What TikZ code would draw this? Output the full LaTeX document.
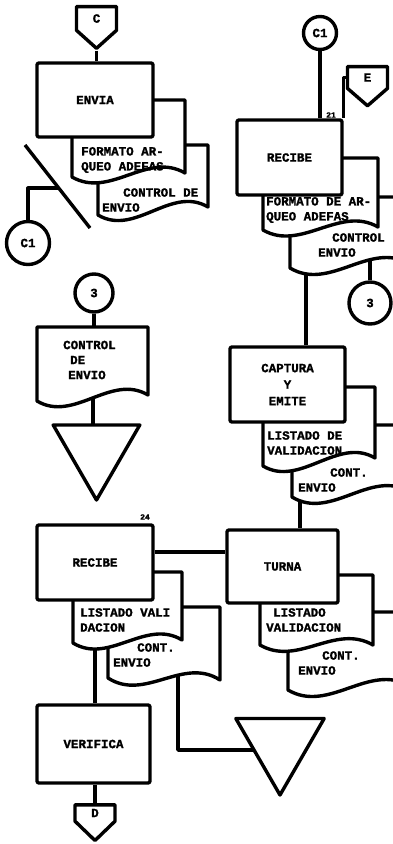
\documentclass[tikz,border=0pt]{standalone}
\usepackage{fontspec}
\setmonofont{Liberation Mono}[BoldFeatures={FakeBold=1.5}]
\usetikzlibrary{calc,backgrounds,shapes.geometric,shapes.symbols}

\begin{document}
\begin{tikzpicture}[x=1pt,y=-1pt,
  every node/.style={font=\ttfamily\bfseries\fontsize{12.5}{15}\selectfont, inner sep=0pt},
  flow/.style={line width=3.4pt, line join=round},
  proc/.style={draw, flow, fill=white, rounded corners=2pt},
  docshape/.style={draw, flow, fill=white},
  conn/.style={draw, flow, circle, fill=white},
  offpage/.style={draw, flow, fill=white, signal, signal to=south, minimum width=40pt},
  merge/.style={draw, flow, fill=white, regular polygon, regular polygon sides=3, shape border rotate=180}]
\useasboundingbox (0,0) rectangle (393,844);
\clip (0,0) rectangle (393,844);

% columna izquierda, arriba
\draw[docshape] (98,145) -- (208,145) -- (208,207) .. controls (171,185) and (135,237) .. (98,215) -- cycle;
\draw[docshape] (72,100) -- (185,100) -- (185,173) .. controls (147,151) and (110,199) .. (72,177) -- cycle;
\node[proc, minimum width=116pt, minimum height=74pt] (envia) at (95,100) {ENVIA};
\node[offpage, minimum height=27pt, signal pointer angle=96] (offC) at (96.5,18.5) {C};
\node[anchor=west, align=left] (fmtA) at (81,160) {FORMATO AR-\\QUEO ADEFAS};
\node[anchor=west, align=left] (ctlA) at (102,200) {\hspace*{21pt}CONTROL DE\\ENVIO};
\coordinate (slashA) at (25,145);
\coordinate (slashB) at (90,228);
\draw[flow] (slashA) -- (slashB);
\coordinate (slashhit) at ($(slashA)!0.52!(slashB)$);
\node[conn, minimum size=43pt] (c1A) at (28,243) {C1};

% columna derecha, arriba
\node[conn, minimum size=33pt] (c1B) at (320,33) {C1};
\node[offpage, minimum height=25pt, signal pointer angle=98] (offE) at (367.5,77.5) {E};
\node[font=\ttfamily\bfseries\footnotesize] (num21) at (331,115) {21};
\draw[docshape] (290,197) -- (410,197) -- (410,264) .. controls (370,240) and (330,292) .. (290,268) -- cycle;
\draw[docshape] (263,158) -- (378,158) -- (378,227) .. controls (340,205) and (301,252) .. (263,230) -- cycle;
\node[proc, minimum width=105pt, minimum height=75pt] (recibeB) at (289.5,157.5) {RECIBE};
\node[anchor=west, align=left] (fmtB) at (266,210) {FORMATO DE AR-\\QUEO ADEFAS};
\node[anchor=west, align=left] (ctlB) at (318,245) {\hspace*{14pt}CONTROL\\ENVIO};
\node[conn, minimum size=42pt] (c3B) at (370,303) {3};
\coordinate (ctlBout) at (306,250);
\coordinate (ctlBout2) at (370,250);

% captura y emite
\draw[docshape] (292,425) -- (410,425) -- (410,492) .. controls (371,468) and (331,521) .. (292,497) -- cycle;
\draw[docshape] (263,387) -- (375,387) -- (375,458) .. controls (338,436) and (300,488) .. (263,466) -- cycle;
\node[proc, minimum width=115pt, minimum height=75pt, align=center, font=\ttfamily\bfseries\fontsize{12.5}{16.5}\selectfont] (captura) at (287.5,384.5) {CAPTURA\\Y\\EMITE};
\node[anchor=west, align=left] (lstB) at (267,443) {LISTADO DE\\VALIDACION};
\node[anchor=west, align=left] (contB) at (298,480) {\hspace*{32pt}CONT.\\ENVIO};
\coordinate (contBout) at (300,480);

% turna
\draw[docshape] (288,612) -- (410,612) -- (410,686) .. controls (369,662) and (329,714) .. (288,690) -- cycle;
\draw[docshape] (260,575) -- (373,575) -- (373,645) .. controls (335,623) and (298,667) .. (260,645) -- cycle;
\node[proc, minimum width=111pt, minimum height=73pt] (turna) at (282.5,566.5) {TURNA};
\node[anchor=west, align=left] (lstC) at (266,620) {\hspace*{7pt}LISTADO\\VALIDACION};
\node[anchor=west, align=left] (contC) at (298,663) {\hspace*{24pt}CONT.\\ENVIO};
\node[merge, minimum size=102pt] (mergeB) at (280,744) {};

% columna izquierda, medio
\node[conn, minimum size=38pt] (c3A) at (94,293) {3};
\draw[docshape] (37,327) -- (148,327) -- (148,395) .. controls (111,373) and (74,423) .. (37,401) -- cycle;
\node[anchor=west, align=left] (ctlC) at (63,360) {CONTROL\\\hspace*{7pt}DE\\\hspace*{5pt}ENVIO};
\coordinate (ctlCin) at (94,340);
\coordinate (ctlCout) at (93,390);
\node[merge, minimum size=100pt] (mergeA) at (96.5,450) {};

% columna izquierda, abajo
\draw[docshape] (108,607) -- (220,607) -- (220,680) .. controls (183,656) and (145,702) .. (108,678) -- cycle;
\draw[docshape] (73,572) -- (182,572) -- (182,640) .. controls (146,618) and (109,665) .. (73,643) -- cycle;
\node[font=\ttfamily\bfseries\footnotesize] (num24) at (145,517) {24};
\node[proc, minimum width=116pt, minimum height=75pt] (recibeA) at (95,562.5) {RECIBE};
\node[anchor=west, align=left] (lstA) at (80,620) {LISTADO VALI\\DACION};
\node[anchor=west, align=left] (contA) at (113,655) {\hspace*{24pt}CONT.\\ENVIO};
\coordinate (lstAout) at (95,630);
\coordinate (contAout) at (178,665);
\node[proc, minimum width=113pt, minimum height=78pt] (verifica) at (93.5,744) {VERIFICA};
\node[offpage, minimum height=20pt, signal pointer angle=92] (offD) at (95,813) {D};

% conectores
\begin{scope}[on background layer]
\draw[flow] (offC.south) -- (offC.south |- envia.north);
\draw[flow] (c1A) |- (slashhit);
\draw[flow] (c1B) -- (c1B |- recibeB.north);
\draw[flow] (offE.west) -| (recibeB.north east);
\draw[flow] (ctlBout) -- (ctlBout |- captura.north);
\draw[flow] (ctlBout2) -- (c3B);
\draw[flow] (contBout) -- (contBout |- turna.north);
\draw[flow] (c3A) -- (ctlCin);
\draw[flow] (ctlCout) -- (ctlCout |- mergeA);
\draw[flow] (recibeA.10) -- (recibeA.10 -| turna.west);
\draw[flow] (lstAout) -- (lstAout |- verifica.north);
\draw[flow] (contAout) |- ($(mergeB)+(0,6)$);
\draw[flow] (offD.north |- verifica.south) -- (offD.north);
\end{scope}
\end{tikzpicture}
\end{document}
